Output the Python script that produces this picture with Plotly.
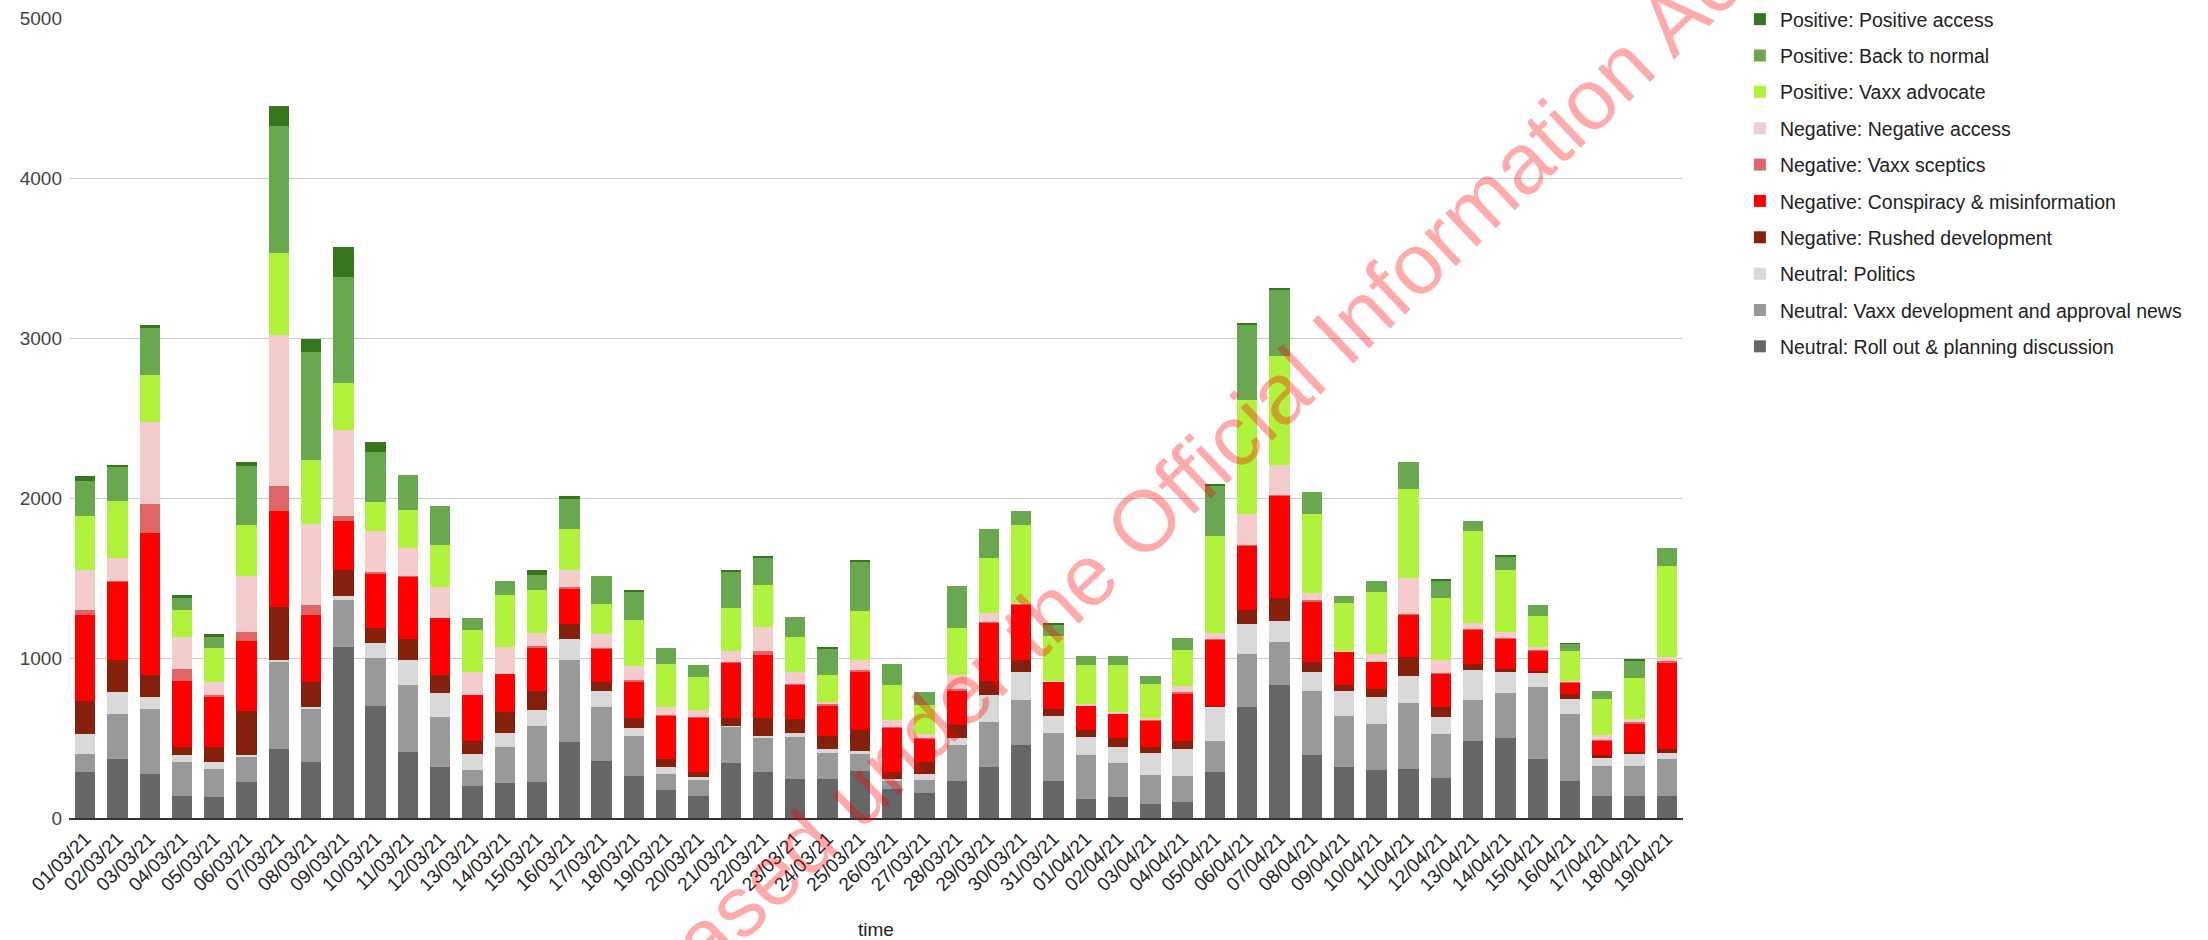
import plotly.graph_objects as go

dates = [f"{d:02d}/03/21" for d in range(1, 32)] + [f"{d:02d}/04/21" for d in range(1, 20)]

roll_out = [285, 371, 275, 139, 129, 225, 434, 348, 1071, 703, 411, 318, 202, 216, 222, 474, 358, 265, 172, 139,
            345, 285, 242, 242, 292, 182, 159, 232, 318, 454, 232, 119, 129, 86, 99, 285, 693, 829, 391, 318,
            298, 308, 252, 484, 497, 368, 232, 139, 139, 139]
vaxx_dev = [116, 282, 405, 209, 179, 160, 544, 332, 289, 295, 418, 312, 96, 228, 355, 514, 338, 246, 103, 96,
            229, 212, 265, 166, 109, 53, 76, 226, 282, 282, 302, 272, 213, 183, 166, 199, 332, 272, 405, 322,
            292, 408, 272, 252, 282, 448, 418, 186, 186, 229]
politics = [123, 136, 76, 43, 40, 10, 7, 13, 26, 93, 156, 149, 103, 90, 96, 133, 100, 49, 43, 20,
            3, 17, 27, 26, 17, 10, 40, 39, 166, 176, 106, 116, 99, 136, 169, 212, 189, 129, 116, 156,
            166, 169, 106, 186, 133, 96, 96, 53, 76, 37]
rushed = [206, 196, 136, 50, 93, 271, 335, 159, 163, 96, 136, 113, 83, 129, 123, 93, 53, 67, 53, 33,
          46, 109, 86, 80, 129, 40, 73, 83, 93, 73, 43, 40, 56, 36, 50, 4, 89, 146, 66, 33,
          53, 120, 63, 40, 20, 7, 30, 13, 14, 29]
conspiracy = [540, 491, 889, 418, 318, 438, 597, 418, 308, 342, 388, 358, 282, 239, 272, 222, 212, 225, 269, 342,
              349, 395, 212, 192, 368, 279, 149, 219, 361, 351, 169, 153, 156, 166, 295, 414, 398, 637, 375, 209,
              166, 265, 209, 215, 189, 126, 73, 93, 175, 538]
sceptics = [33, 7, 179, 73, 7, 60, 159, 63, 33, 6, 6, 0, 0, 0, 6, 6, 3, 13, 6, 3,
            6, 23, 7, 7, 7, 3, 3, 7, 7, 3, 3, 3, 3, 3, 7, 7, 7, 3, 7, 3,
            3, 7, 3, 7, 7, 7, 3, 3, 7, 7]
neg_access = [249, 145, 514, 202, 83, 351, 942, 504, 534, 259, 173, 196, 149, 169, 83, 107, 83, 87, 50, 40,
              63, 153, 76, 10, 63, 46, 24, 89, 53, 7, 4, 10, 4, 13, 36, 33, 192, 189, 49, 4,
              50, 225, 80, 33, 36, 16, 7, 34, 23, 26]
advocate = [335, 355, 295, 169, 215, 319, 514, 398, 292, 179, 239, 262, 262, 325, 269, 258, 189, 288, 269, 209,
            269, 265, 216, 172, 308, 219, 182, 292, 348, 488, 278, 245, 298, 213, 229, 607, 710, 680, 491, 301,
            385, 554, 391, 577, 388, 192, 182, 225, 252, 570]
back_normal = [222, 216, 292, 73, 73, 365, 795, 680, 663, 315, 219, 242, 73, 83, 93, 186, 176, 176, 99, 73,
               232, 166, 126, 166, 309, 133, 83, 262, 179, 86, 67, 57, 57, 53, 73, 315, 477, 421, 136, 40,
               66, 166, 106, 63, 83, 73, 47, 50, 110, 113]
pos_access = [30, 6, 20, 20, 10, 23, 123, 79, 189, 60, 0, 0, 0, 0, 30, 20, 0, 6, 0, 0,
              10, 13, 0, 3, 6, 0, 0, 0, 0, 0, 13, 0, 0, 0, 0, 7, 7, 4, 0, 0,
              0, 0, 7, 0, 6, 0, 3, 0, 6, 0]

series = [
    ("Neutral: Roll out & planning discussion", roll_out, "#666666"),
    ("Neutral: Vaxx development and approval news", vaxx_dev, "#999999"),
    ("Neutral: Politics", politics, "#d9d9d9"),
    ("Negative: Rushed development", rushed, "#85200c"),
    ("Negative: Conspiracy & misinformation", conspiracy, "#ff0000"),
    ("Negative: Vaxx sceptics", sceptics, "#e06666"),
    ("Negative: Negative access", neg_access, "#f4cccc"),
    ("Positive: Vaxx advocate", advocate, "#b0f23c"),
    ("Positive: Back to normal", back_normal, "#6aa84f"),
    ("Positive: Positive access", pos_access, "#38761d"),
]

FONT = "Liberation Sans, Arial, sans-serif"

fig = go.Figure()
for i, (name, vals, color) in enumerate(series):
    fig.add_trace(go.Bar(
        x=dates, y=vals, name=name,
        marker=dict(color=color, line=dict(width=0)),
        legendrank=100 - i,
        legendgroup=name,
    ))

fig.update_layout(
    width=2208, height=940,
    barmode="stack",
    bargap=0.37,
    plot_bgcolor="white",
    paper_bgcolor="white",
    margin=dict(l=69, r=525, t=18, b=122, autoexpand=False),
    font=dict(family=FONT, size=19, color="#222222"),
    legend=dict(
        x=0.788, xref="container", xanchor="left",
        y=1.0, yref="container", yanchor="top",
        font=dict(family=FONT, size=19.5, color="#222222"),
        tracegroupgap=8,
        bgcolor="rgba(0,0,0,0)",
    ),
    xaxis=dict(
        type="category",
        automargin=False,
        tickangle=-45,
        tickfont=dict(family=FONT, size=19, color="#222222"),
        showgrid=False,
        showline=True, linecolor="#333333", linewidth=2,
        ticks="",
        title=dict(text="time", standoff=30, font=dict(family=FONT, size=19, color="#222222")),
    ),
    yaxis=dict(
        range=[0, 5000],
        automargin=False,
        tickvals=[0, 1000, 2000, 3000, 4000, 5000],
        tickformat="d",
        gridcolor="#cccccc", gridwidth=1,
        zeroline=False,
        ticks="",
        ticklabelstandoff=6,
        tickfont=dict(family=FONT, size=19, color="#444444"),
    ),
    annotations=[dict(
        text="Released under the Official Information Act",
        xref="paper", yref="paper",
        x=(1150 - 69) / 1614, y=(818 - 515) / 800,
        xanchor="center", yanchor="middle",
        textangle=-43.5,
        showarrow=False,
        font=dict(family=FONT, size=86, color="rgba(255,0,0,0.33)"),
    )],
)

fig.write_html("out.html", config={"displayModeBar": False},
               post_script="document.body.style.margin='0';document.body.style.overflow='hidden';")
